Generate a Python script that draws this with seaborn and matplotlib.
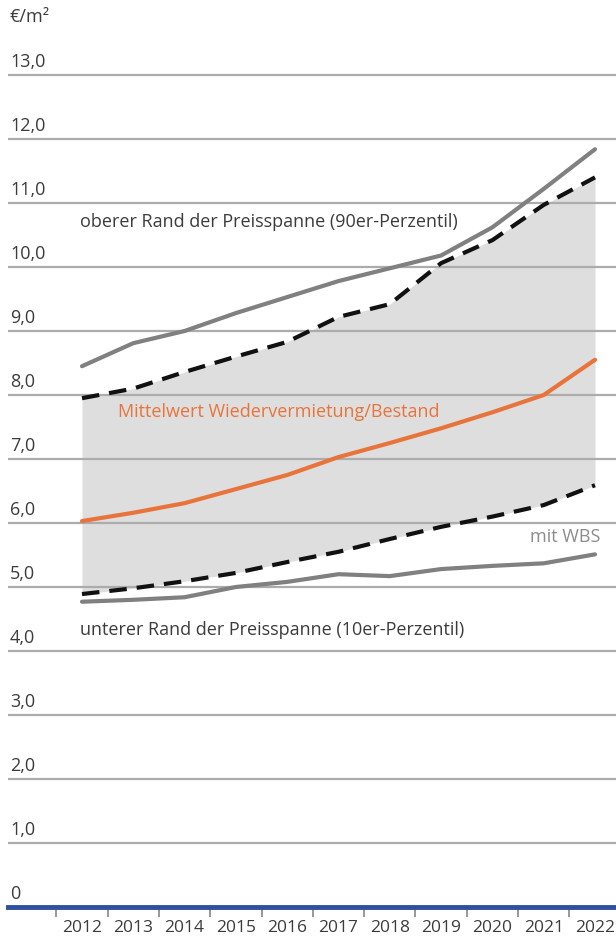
import matplotlib.pyplot as plt
import pandas as pd
import seaborn as sns

# Data (EUR per m2)
years = [2012, 2013, 2014, 2015, 2016, 2017, 2018, 2019, 2020, 2021, 2022]
upper_wbs = [8.45, 8.81, 9.00, 9.28, 9.53, 9.78, 9.98, 10.18, 10.62, 11.22, 11.84]
p90 = [7.95, 8.10, 8.36, 8.60, 8.83, 9.22, 9.42, 10.06, 10.42, 10.97, 11.40]
mean_rent = [6.03, 6.16, 6.31, 6.53, 6.75, 7.03, 7.25, 7.48, 7.73, 8.00, 8.55]
p10 = [4.89, 4.98, 5.09, 5.22, 5.39, 5.55, 5.75, 5.94, 6.10, 6.28, 6.59]
lower_wbs = [4.77, 4.80, 4.84, 5.00, 5.08, 5.20, 5.17, 5.28, 5.33, 5.37, 5.51]

y_ticks = [0, 1, 2, 3, 4, 5, 6, 7, 8, 9, 10, 11, 12, 13]
y_tick_labels = ["0", "1,0", "2,0", "3,0", "4,0", "5,0", "6,0", "7,0",
                 "8,0", "9,0", "10,0", "11,0", "12,0", "13,0"]

df = pd.DataFrame({"year": years, "upper_wbs": upper_wbs, "p90": p90,
                   "mean": mean_rent, "p10": p10, "lower_wbs": lower_wbs})

sns.set_style("white")
plt.rcParams["font.family"] = ["Open Sans", "DejaVu Sans"]

fs = 13
txt_col = "#3c3c3c"
grid_col = "#acacac"
fig = plt.figure(figsize=(6.16, 9.42), dpi=100)
ax = fig.add_axes([8 / 616, 1 - 907 / 942, 1 - 8 / 616, (907 - 73) / 942])

ax.set_xlim(2012 - 74 / 51.3, 2012 + 534 / 51.3)
ax.set_ylim(0, 13 + 2 / 64)

# shaded band between the percentiles
ax.fill_between(df["year"], df["p10"], df["p90"], color="#dedede", lw=0, zorder=1)

# horizontal gridlines
for v in y_ticks[1:]:
    ax.axhline(v, color=grid_col, lw=1.6, zorder=2)

sns.lineplot(data=df, x="year", y="upper_wbs", ax=ax, color="#808080", lw=3, zorder=3)
sns.lineplot(data=df, x="year", y="lower_wbs", ax=ax, color="#808080", lw=3, zorder=3)
sns.lineplot(data=df, x="year", y="p90", ax=ax, color="#111111", lw=3,
             zorder=4).lines[-1].set_dashes([4.2, 2.4])
sns.lineplot(data=df, x="year", y="p10", ax=ax, color="#111111", lw=3,
             zorder=4).lines[-1].set_dashes([4.2, 2.4])
sns.lineplot(data=df, x="year", y="mean", ax=ax, color="#e8743b", lw=3, zorder=5)

# y labels sit above the gridlines, left aligned
for v, lab in zip(y_ticks, y_tick_labels):
    ax.annotate(lab, xy=(0, v), xycoords=("axes fraction", "data"),
                xytext=(1.5, 5.5), textcoords="offset points",
                ha="left", va="baseline", fontsize=fs, color=txt_col)
fig.text(10 / 616, 1 - 17 / 942, "€/m²", ha="left", va="center", fontsize=fs, color=txt_col)

# x axis
ax.set_yticks([])
ax.set_xticks(years)
ax.set_xticklabels([str(y) for y in years], fontsize=12.5, color=txt_col)
ax.set_xticks([y - 0.5 for y in years], minor=True)
ax.tick_params(axis="x", which="major", bottom=False, length=0, pad=9)
ax.tick_params(axis="x", which="minor", bottom=True, length=7, width=1.3,
               color="#909090", direction="out")
for s in ["top", "right", "left"]:
    ax.spines[s].set_visible(False)
ax.spines["bottom"].set_color("#2f4f9f")
ax.spines["bottom"].set_linewidth(3.5)
ax.spines["bottom"].set_zorder(6)
ax.set_xlabel("")
ax.set_ylabel("")

# annotations
ax.text(2012 - 2 / 51.3, 10.7, "oberer Rand der Preisspanne (90er-Perzentil)",
        ha="left", va="center", fontsize=fs, color=txt_col)
ax.text(2012 + 36 / 51.3, 7.74, "Mittelwert Wiedervermietung/Bestand",
        ha="left", va="center", fontsize=fs, color="#e8743b")
ax.text(2022 + 5 / 51.3, 5.78, "mit WBS", ha="right", va="center",
        fontsize=fs, color="#8c8c8c")
ax.text(2012 - 2 / 51.3, 4.33, "unterer Rand der Preisspanne (10er-Perzentil)",
        ha="left", va="center", fontsize=fs, color=txt_col)

fig.savefig("out.png", dpi=100)
